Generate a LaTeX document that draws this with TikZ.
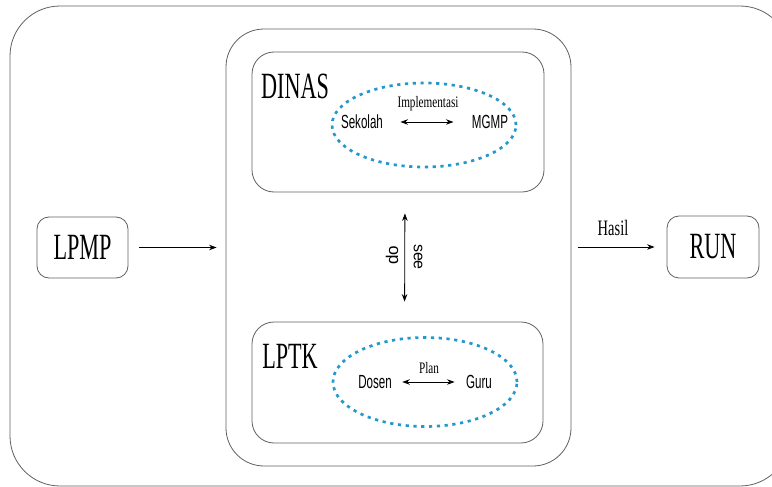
\documentclass[tikz,border=0pt]{standalone}
\usepackage{fontspec}
\setmainfont{Liberation Serif}
\setsansfont{Liberation Sans}
\usepackage{tikz}
\usepackage{xcolor}
\usetikzlibrary{arrows.meta}
\usetikzlibrary{shapes.geometric}

\definecolor{ringblue}{RGB}{35,152,205}
\definecolor{framegray}{RGB}{95,95,95}
\newcommand{\squeeze}[2][0.63]{\scalebox{#1}[1]{#2}}

\begin{document}
\begin{tikzpicture}[x=1pt,y=-1pt,
	frame/.style={draw=framegray,line width=0.8pt,rectangle,rounded corners=#1,inner sep=0pt},
	ring/.style={draw=ringblue,ellipse,line width=2.7pt,dash pattern=on 3.2pt off 4.6pt},
	bigtext/.style={font=\fontsize{37pt}{37pt}\selectfont},
	sanstext/.style={font=\sffamily\fontsize{19pt}{19pt}\selectfont},
	smalltext/.style={font=\fontsize{16pt}{16pt}\selectfont},
	link/.style={line width=0.8pt,>={Stealth[length=7.5pt,width=5.5pt]}}]

	\useasboundingbox (0,0) rectangle (772,487);
	% outer frame
	\draw[framegray,line width=0.8pt,rounded corners=50] (10,6) rectangle (790,486);

	% boxes
	\node[frame=38,minimum width=345,minimum height=437] (mid) at (398.5,247.5) {};
	\node[frame=22,minimum width=292,minimum height=140] (dinas) at (398,122) {};
	\node[frame=22,minimum width=291,minimum height=121] (lptk) at (397.5,382.5) {};
	\node[frame=12,minimum width=91,minimum height=61,bigtext] (lpmp) at (82.5,247.5) {\squeeze[0.6]{LPMP}};
	\node[frame=12,minimum width=92,minimum height=62,bigtext] (run) at (713,247) {\squeeze[0.6]{RUN}};
	\node[bigtext] (dinaslabel) at (295,86) {\squeeze[0.6]{DINAS}};
	\node[bigtext] (lptklabel) at (290,356) {\squeeze[0.6]{LPTK}};

	% rings
	\node[ring,minimum width=184,minimum height=84] (dinasring) at (424,125) {};
	\node[ring,minimum width=184,minimum height=89] (lptkring) at (425,382) {};

	\node[sanstext] (sekolah) at (362,122) {\squeeze[0.61]{Sekolah}};
	\node[sanstext] (mgmp) at (490,122) {\squeeze[0.61]{MGMP}};
	\node[sanstext] (dosen) at (375,382) {\squeeze[0.61]{Dosen}};
	\node[sanstext] (guru) at (479,382) {\squeeze[0.61]{Guru}};
	\node[smalltext] (impl) at (428,104) {\squeeze[0.7]{Implementasi}};
	\node[smalltext] (plan) at (429,368) {\squeeze[0.7]{Plan}};

	% connectors
	\draw[link,<->,shorten <=14pt,shorten >=15pt] (sekolah) -- (mgmp);
	\draw[link,<->,shorten <=7pt,shorten >=8pt] (dosen) -- (guru);
	\draw[link,<->,shorten <=21pt,shorten >=20pt] ([xshift=7pt]dinas.south) -- ([xshift=7pt]lptk.north);
	\draw[link,->,shorten <=11pt,shorten >=9pt] (lpmp) -- (mid);
	\draw[link,->,shorten <=7pt,shorten >=12pt] (mid.east |- run) -- (run);
	\node[font=\sffamily\fontsize{16pt}{16pt}\selectfont,rotate=-90] (see) at (418,257) {see};
	\node[font=\sffamily\fontsize{17pt}{17pt}\selectfont,rotate=90] (do) at (392,255) {do};
	\node[font=\fontsize{22pt}{22pt}\selectfont] (hasil) at (613,228) {\squeeze[0.66]{Hasil}};

\end{tikzpicture}
\end{document}
